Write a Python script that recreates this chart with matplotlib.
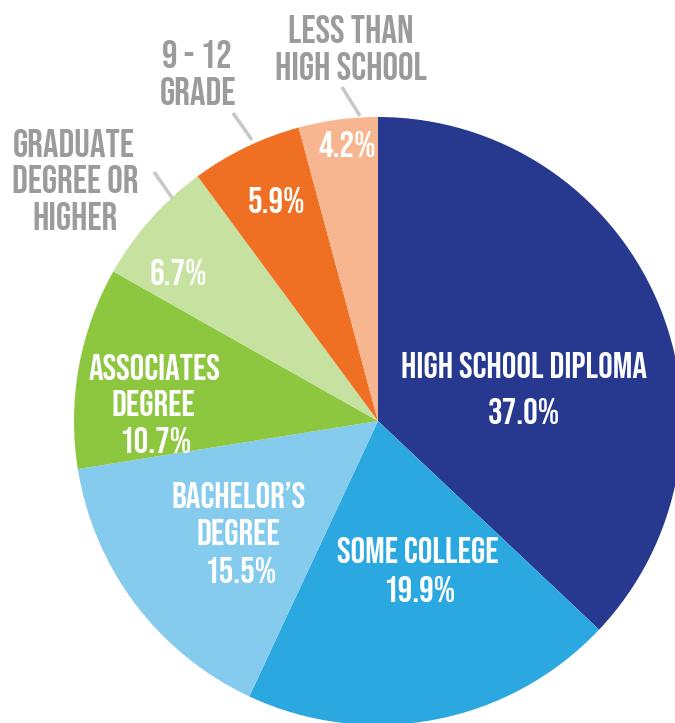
import matplotlib
matplotlib.use("Agg")
import matplotlib.pyplot as plt

categories = ["High School Diploma", "Some College", "Bachelor's Degree",
              "Associates Degree", "Graduate Degree or Higher", "9 - 12 Grade",
              "Less Than High School"]
values = [37.0, 19.9, 15.5, 10.7, 6.7, 5.9, 4.2]
colors = ["#27388f", "#2ca8e0", "#84cbed", "#8dc63f", "#c6e1a0", "#ef7023", "#f7b690"]

fam = "Bebas Neue"

W, H = 675, 723
fig = plt.figure(figsize=(W / 100, H / 100), dpi=100)
ax = fig.add_axes([0, 0, 1, 1])
ax.axis("off")

cx, cy, r = 378, H - 421, 304
ax.pie(values, colors=colors, startangle=90, counterclock=False,
       center=(cx, cy), radius=r, normalize=True,
       wedgeprops=dict(linewidth=0))
ax.set_xlim(0, W)
ax.set_ylim(0, H)
ax.set_aspect("equal")

def T(x, y, s, size, color="white"):
    ax.text(x, H - y, s, ha="center", va="baseline", fontsize=size, color=color,
            family=fam)

wsz = 26.3
T(524, 378, "HIGH SCHOOL DIPLOMA", wsz)
T(524, 424, f"{values[0]:.1f}%", wsz)
T(418, 563, "SOME COLLEGE", wsz)
T(419, 602, f"{values[1]:.1f}%", wsz)
T(239, 508, "BACHELOR’S", wsz)
T(238, 545, "DEGREE", wsz)
T(240, 583, f"{values[2]:.1f}%", wsz)
T(154, 380, "ASSOCIATES", wsz)
T(153, 416, "DEGREE", wsz)
T(155, 453, f"{values[3]:.1f}%", wsz)
T(178, 285, f"{values[4]:.1f}%", wsz)
T(276, 213, f"{values[5]:.1f}%", wsz)
T(347, 157, f"{values[6]:.1f}%", wsz)

gray = "#9b9b9b"
gsz = 28
T(74, 157, "GRADUATE", gsz, gray)
T(75, 193, "DEGREE OR", gsz, gray)
T(75, 230, "HIGHER", gsz, gray)
T(197, 68, "9 - 12", gsz, gray)
T(198, 105, "GRADE", gsz, gray)
T(351, 43, "LESS THAN", gsz, gray)
T(351, 80, "HIGH SCHOOL", gsz, gray)

lc = "#c8c8c8"
for (x1, y1, x2, y2) in [(154, 172, 173, 199), (233, 113, 252, 140), (342, 87, 360, 116)]:
    ax.plot([x1, x2], [H - y1, H - y2], color=lc, lw=2.5, solid_capstyle="butt")

fig.savefig("out.png", dpi=100)
